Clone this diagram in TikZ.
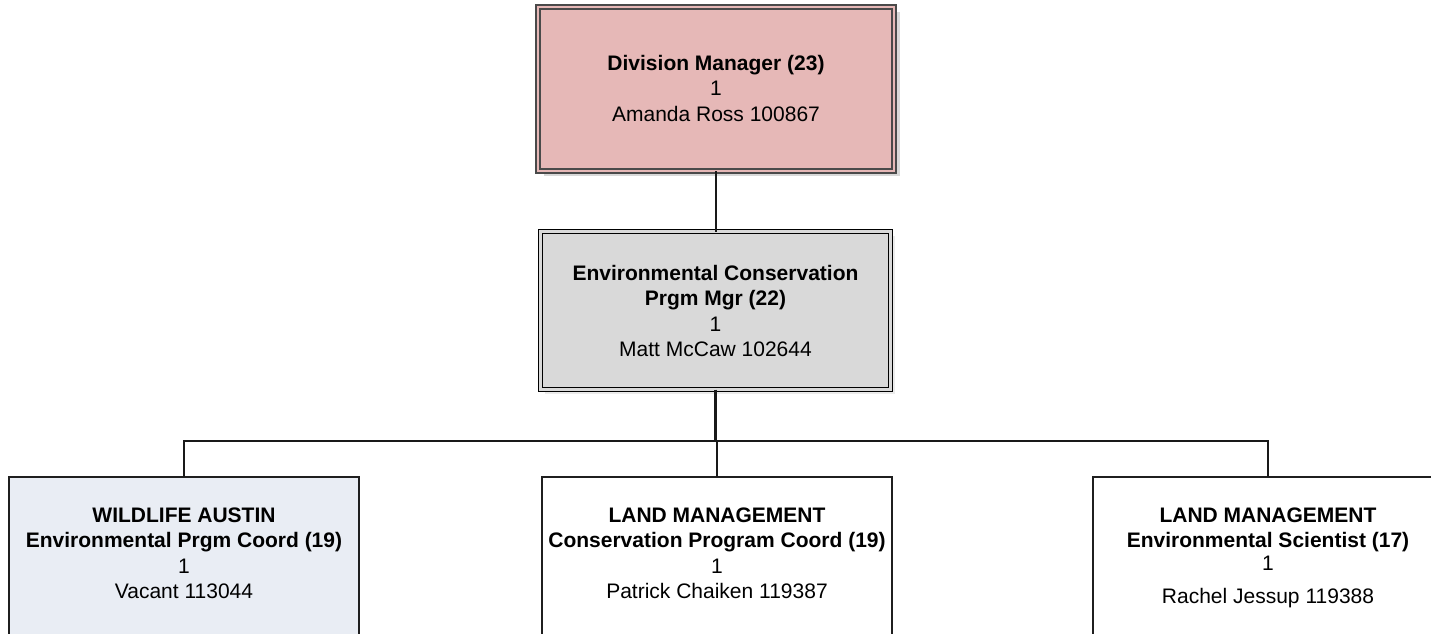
\documentclass[tikz,border=0pt]{standalone}
\usepackage{fontspec}
\setmainfont{Liberation Sans}
\usetikzlibrary{shadows}
\definecolor{topfill}{HTML}{E6B8B7}
\definecolor{topline}{HTML}{4A4A4A}
\definecolor{midfill}{HTML}{D9D9D9}
\definecolor{wildfill}{HTML}{E9EDF4}
\definecolor{shadowgray}{HTML}{D8D8D8}
\definecolor{shadowlight}{HTML}{EBEBEB}
\begin{document}
\begin{tikzpicture}[x=1pt,y=-1pt,
  box/.style={rectangle, inner sep=0pt, outer sep=0pt},
  dblbox/.style={box, line width=1.6pt, double distance=2.4pt},
  posbox/.style={box, minimum width=350pt, minimum height=173pt, draw=black!88, line width=1.4pt},
  txt/.style={anchor=north, align=center, inner sep=0pt, font=\fontsize{21}{25.5}\selectfont},
  link/.style={line width=1.4pt, draw=black!90}]
\useasboundingbox (0,0) rectangle (1431,633);
\clip (0,0) rectangle (1431,633);
\fill[white] (0,0) rectangle (1431,633);

% boxes
\node[dblbox, minimum width=356pt, minimum height=164pt, fill=topfill, draw=topline, double=topfill,
      drop shadow={shadow xshift=6pt, shadow yshift=-5pt, fill=shadowgray, opacity=1}] (dm) at (716,89) {};
\node[dblbox, minimum width=350pt, minimum height=158pt, fill=midfill, draw=black, double=midfill,
      drop shadow={shadow xshift=4pt, shadow yshift=-4pt, fill=shadowlight, opacity=1}] (ec) at (715.5,310.5) {};
\node[posbox, fill=wildfill] (wa) at (184,563.5) {};
\node[posbox, fill=white] (lm1) at (717,563.5) {};
\node[posbox, fill=white] (lm2) at (1268,563.5) {};

% texts
\node[txt] (dmt) at (716,52.2) {\strut\textbf{Division Manager (23)}\\1\\Amanda Ross 100867};
\node[txt] (ect) at (715.5,262.2) {\strut\textbf{Environmental Conservation}\\\textbf{Prgm Mgr (22)}\\1\\Matt McCaw 102644};
\node[txt] (wat) at (184,504.2) {\strut\textbf{WILDLIFE AUSTIN}\\\textbf{Environmental Prgm Coord (19)}\\1\\Vacant 113044};
\node[txt] (lm1t) at (717,504.2) {\strut\textbf{LAND MANAGEMENT}\\\textbf{Conservation Program Coord (19)}\\1\\Patrick Chaiken 119387};
\node[txt] (lm2t) at (1268,504.2) {\strut\textbf{LAND MANAGEMENT}\\\textbf{Environmental Scientist (17)}\\[-3pt]1\\[8pt]Rachel Jessup 119388};

% connectors
\coordinate (bus) at (716,441);
\draw[link, line width=1.6pt] (dm.south) -- (dm.south |- ec.north);
\draw[link, line width=2.2pt] (ec.south) -- (ec.south |- bus);
\draw[link] (bus) -| (wa.north);
\draw[link] (bus) -| (lm2.north);
\draw[link] (lm1.north |- bus) -- (lm1.north);
\end{tikzpicture}
\end{document}
